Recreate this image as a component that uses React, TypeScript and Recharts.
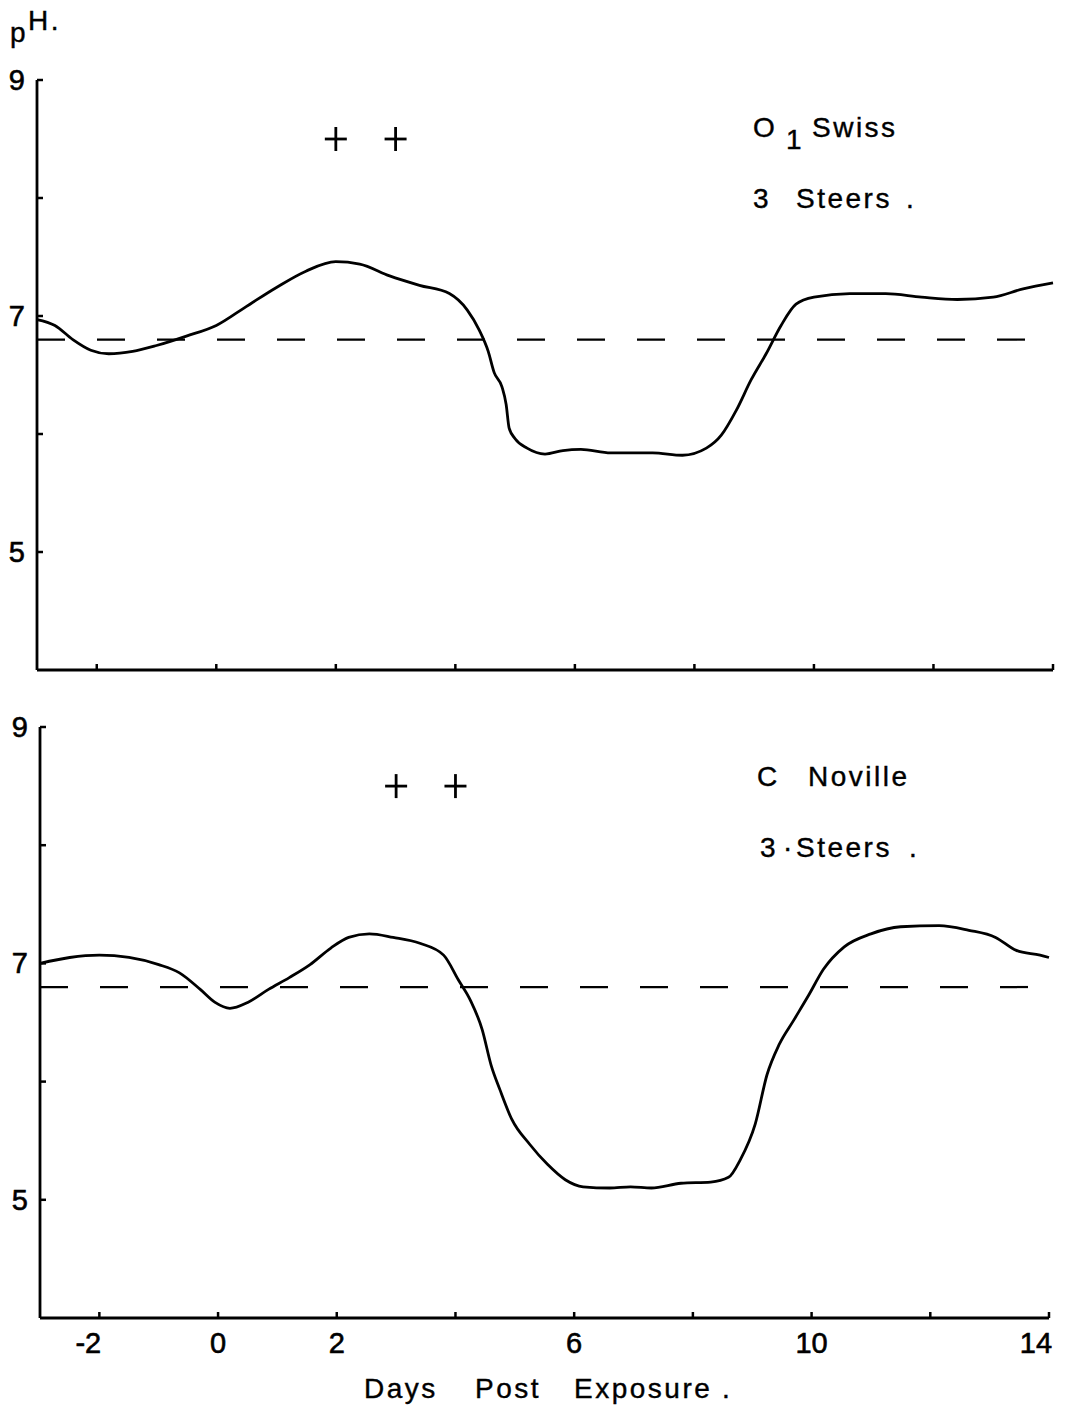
import React from 'react';
import { ComposedChart, Line, XAxis, YAxis, ReferenceLine, ReferenceDot } from 'recharts';

// ---- data ----
const daysSwiss = [-3, -2.7, -2.4, -2.1, -1.8, -1.4, -1.0, -0.5, 0, 0.5, 1.0, 1.5, 2.0, 2.4, 2.9, 3.4, 3.9, 4.2, 4.4, 4.55, 4.65, 4.78, 4.85, 4.9, 5.0, 5.2, 5.5, 5.8, 6.1, 6.6, 7.3, 7.8, 8.2, 8.45, 8.7, 8.95, 9.2, 9.45, 9.7, 10.0, 10.6, 11.2, 11.8, 12.4, 13.0, 13.5, 14.0];
const phSwiss = [6.97, 6.92, 6.80, 6.71, 6.68, 6.70, 6.75, 6.83, 6.92, 7.08, 7.24, 7.38, 7.46, 7.44, 7.34, 7.26, 7.19, 7.05, 6.88, 6.70, 6.52, 6.40, 6.25, 6.05, 5.96, 5.88, 5.83, 5.86, 5.87, 5.84, 5.84, 5.82, 5.88, 5.99, 6.20, 6.46, 6.68, 6.92, 7.10, 7.16, 7.19, 7.19, 7.16, 7.14, 7.16, 7.23, 7.28];

const daysNoville = [-3, -2.5, -2.0, -1.5, -1.0, -0.65, -0.3, -0.05, 0.2, 0.5, 0.85, 1.2, 1.55, 1.9, 2.2, 2.55, 2.95, 3.4, 3.8, 4.05, 4.25, 4.45, 4.6, 4.75, 4.95, 5.25, 5.55, 5.85, 6.15, 6.6, 6.95, 7.3, 7.8, 8.3, 8.6, 8.8, 9.05, 9.25, 9.45, 9.7, 9.95, 10.2, 10.55, 11.0, 11.5, 12.15, 12.65, 13.1, 13.45, 13.85, 14.0];
const phNoville = [7.00, 7.05, 7.07, 7.05, 6.99, 6.92, 6.78, 6.67, 6.62, 6.67, 6.78, 6.88, 6.99, 7.13, 7.22, 7.25, 7.22, 7.17, 7.07, 6.86, 6.69, 6.44, 6.14, 5.93, 5.68, 5.47, 5.30, 5.17, 5.11, 5.10, 5.11, 5.10, 5.14, 5.15, 5.19, 5.34, 5.64, 6.06, 6.31, 6.52, 6.73, 6.95, 7.14, 7.25, 7.31, 7.32, 7.28, 7.22, 7.11, 7.07, 7.05];

const xTicks = [-2, 0, 2, 4, 6, 8, 10, 12, 14];
const xLabelledTicks = [-2, 0, 2, 6, 10, 14];
const yTicks = [5, 6, 7, 8, 9];
const yLabelledTicks = [5, 7, 9];
const xDomain = [-3, 14];
const yDomain = [4, 9];
const baselinePH = 6.8;
const plusDaysSwiss = [2, 3];
const plusDaysNoville = [3, 4];
const plusPH = 8.5;

const swissData = daysSwiss.map((d, i) => ({ day: d, ph: phSwiss[i] }));
const novilleData = daysNoville.map((d, i) => ({ day: d, ph: phNoville[i] }));

const FONT = '"Liberation Sans", Arial, Helvetica, sans-serif';

const YTick = (props: any) => {
  const { x, y, payload } = props;
  const v = payload.value;
  return (
    <g>
      <line x1={x} x2={x + 6} y1={y} y2={y} stroke="#000" strokeWidth={2.5} />
      {yLabelledTicks.includes(v) && (
        <text x={x - 12} y={y + 10} textAnchor="end" fontSize={29} fontFamily={FONT} fill="#000" stroke="#000" strokeWidth={0.6}>
          {v}
        </text>
      )}
    </g>
  );
};

const makeXTick = (showLabels: boolean) => (props: any) => {
  const { x, y, payload } = props;
  const v = payload.value;
  const dx = v < 0 ? -11 : v === 14 ? -13 : 0;
  return (
    <g>
      <line x1={x} x2={x} y1={y} y2={y - 6} stroke="#000" strokeWidth={2.5} />
      {showLabels && xLabelledTicks.includes(v) && (
        <text x={x + dx} y={y + 35} textAnchor="middle" fontSize={29} fontFamily={FONT} fill="#000" stroke="#000" strokeWidth={0.6}>
          {v}
        </text>
      )}
    </g>
  );
};

const Plus = (props: any) => {
  const { cx, cy } = props;
  return (
    <g>
      <line x1={cx - 11} x2={cx + 11} y1={cy} y2={cy} stroke="#000" strokeWidth={2.8} />
      <line x1={cx} x2={cx} y1={cy - 12} y2={cy + 12} stroke="#000" strokeWidth={2.8} />
    </g>
  );
};

const textStyle = { fontFamily: FONT, fontSize: 28, fill: '#000', letterSpacing: 2.5, stroke: '#000', strokeWidth: 0.4 } as const;

export default function App() {
  return (
    <div style={{ position: 'absolute', left: 0, top: 0, width: 1076, height: 1409, background: '#fff' }}>
      <div style={{ position: 'absolute', left: 0, top: 0 }}>
        <ComposedChart width={1076} height={700} data={swissData} margin={{ top: 80, right: 23, bottom: 0, left: 0 }}>
          <XAxis
            dataKey="day"
            type="number"
            domain={xDomain}
            ticks={xTicks}
            interval={0}
            height={30}
            tickSize={0}
            tickMargin={0}
            tickLine={false}
            axisLine={{ stroke: '#000', strokeWidth: 2.8 }}
            tick={makeXTick(false)}
          />
          <YAxis
            type="number"
            domain={yDomain}
            ticks={yTicks}
            interval={0}
            width={37}
            tickSize={0}
            tickMargin={0}
            tickLine={false}
            axisLine={{ stroke: '#000', strokeWidth: 2.8 }}
            tick={YTick}
          />
          <ReferenceLine y={baselinePH} stroke="#000" strokeWidth={2.2} strokeDasharray="28 32" />
          <Line dataKey="ph" type="monotone" stroke="#000" strokeWidth={2.8} dot={false} isAnimationActive={false} />
          {plusDaysSwiss.map((d) => (
            <ReferenceDot key={d} x={d} y={plusPH} r={10} shape={Plus} />
          ))}
          <text x={10} y={42} style={textStyle}>
            p<tspan dy={-12}>H.</tspan>
          </text>
          <text x={753} y={137} style={textStyle}>
            O
            <tspan x={786} dy={12}>1</tspan>
            <tspan x={812} dy={-12}>Swiss</tspan>
          </text>
          <text y={208} style={textStyle}>
            <tspan x={753}>3</tspan>
            <tspan x={796}>Steers</tspan>
            <tspan x={906}>.</tspan>
          </text>
        </ComposedChart>
      </div>
      <div style={{ position: 'absolute', left: 0, top: 700 }}>
        <ComposedChart width={1076} height={709} data={novilleData} margin={{ top: 27, right: 27, bottom: 61, left: 0 }}>
          <XAxis
            dataKey="day"
            type="number"
            domain={xDomain}
            ticks={xTicks}
            interval={0}
            height={30}
            tickSize={0}
            tickMargin={0}
            tickLine={false}
            axisLine={{ stroke: '#000', strokeWidth: 2.8 }}
            tick={makeXTick(true)}
          />
          <YAxis
            type="number"
            domain={yDomain}
            ticks={yTicks}
            interval={0}
            width={40}
            tickSize={0}
            tickMargin={0}
            tickLine={false}
            axisLine={{ stroke: '#000', strokeWidth: 2.8 }}
            tick={YTick}
          />
          <ReferenceLine y={baselinePH} stroke="#000" strokeWidth={2.2} strokeDasharray="28 32" />
          <Line dataKey="ph" type="monotone" stroke="#000" strokeWidth={2.8} dot={false} isAnimationActive={false} />
          {plusDaysNoville.map((d) => (
            <ReferenceDot key={d} x={d} y={plusPH} r={10} shape={Plus} />
          ))}
          <text y={86} style={textStyle}>
            <tspan x={757}>C</tspan>
            <tspan x={808}>Noville</tspan>
          </text>
          <text y={157} style={textStyle}>
            <tspan x={760}>3</tspan>
            <tspan x={783}>·</tspan>
            <tspan x={796}>Steers</tspan>
            <tspan x={909}>.</tspan>
          </text>
          <text y={698} style={textStyle}>
            <tspan x={364}>Days</tspan>
            <tspan x={475}>Post</tspan>
            <tspan x={574}>Exposure</tspan>
            <tspan x={722}>.</tspan>
          </text>
        </ComposedChart>
      </div>
    </div>
  );
}
